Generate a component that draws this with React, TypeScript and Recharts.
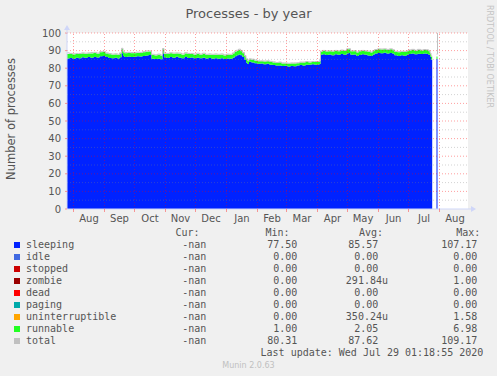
import React from 'react';
import { ComposedChart, Area, Line, XAxis, YAxis, ReferenceLine, ReferenceDot } from 'recharts';

// day 0 = 1 Aug 2019
const days = [
  -6.5, -4, -1, 2, 5, 8, 11, 14, 17, 20,
  23, 26, 29, 32, 35, 38, 41, 44, 46, 48,
  49.5, 51, 54, 57, 60, 63, 66, 69, 72, 75,
  78, 81, 84, 87, 89, 90.5, 93, 96, 99, 102,
  105, 108, 111, 114, 117, 120, 123, 126, 129, 132,
  135, 138, 141, 144, 147, 150, 153, 156, 159, 161,
  163, 165, 167, 169, 171, 172.5, 174, 175.5, 178, 181,
  184, 187, 190, 193, 196, 199, 202, 205, 208, 211,
  214, 217, 220, 223, 226, 229, 232, 235, 238, 241,
  244, 246, 247, 249, 252, 255, 258, 261, 264, 267,
  270, 273, 275, 277, 280, 283, 285, 288, 291, 294,
  297, 299, 301, 304, 307, 310, 313, 316, 319, 321,
  324, 327, 330, 333, 335, 338, 341, 344, 347, 350,
  353, 355, 356.5, 357.5, 358.7, 359, 363, 364,
];
const sleeping = [
  85.5, 85.8, 85.4, 86.0, 85.7, 86.2, 85.9, 86.3, 86.0, 86.4,
  86.1, 86.8, 86.9, 86.3, 85.8, 85.6, 85.9, 85.5, 86.2, 88.5,
  87.0, 86.3, 86.6, 86.4, 86.5, 86.8, 86.6, 86.9, 87.2, 87.5,
  85.4, 85.2, 85.4, 85.1, 88.4, 86.2, 85.8, 86.4, 85.9, 86.5,
  86.0, 85.7, 86.3, 85.8, 86.1, 85.7, 86.0, 85.6, 85.9, 85.5,
  85.8, 85.4, 85.7, 85.3, 85.6, 85.2, 85.5, 85.3, 86.0, 86.8,
  87.3, 87.8, 87.4, 86.3, 84.8, 83.2, 82.4, 83.6, 83.3, 82.8,
  82.5, 82.6, 82.3, 82.5, 82.0, 81.8, 81.5, 81.6, 81.2, 81.4,
  81.0, 81.3, 81.1, 81.5, 81.8, 81.6, 82.0, 81.9, 82.2, 82.0,
  82.1, 82.4, 87.6, 87.9, 87.5, 87.8, 87.4, 87.9, 87.6, 88.1,
  87.7, 88.3, 88.6, 87.6, 87.8, 86.9, 87.5, 87.9, 87.6, 87.2,
  86.9, 87.6, 88.4, 88.7, 88.5, 88.8, 88.4, 88.6, 88.2, 87.3,
  87.0, 87.4, 87.1, 87.6, 88.1, 88.3, 87.9, 88.2, 88.0, 88.4,
  88.1, 87.7, 86.5, 85.0, 85.0, null, 85.2, 85.2,
];
const runnable = [
  2.6, 2.2, 2.4, 2.0, 2.3, 2.1, 2.2, 2.0, 2.4, 2.2,
  2.1, 2.2, 2.3, 2.0, 2.1, 2.0, 1.9, 2.0, 2.1, 2.4,
  2.0, 2.2, 2.0, 2.1, 2.0, 1.9, 2.0, 2.1, 2.2, 2.0,
  2.1, 2.0, 2.2, 2.0, 2.4, 2.0, 2.2, 2.1, 2.3, 1.9,
  2.2, 2.0, 2.1, 2.2, 1.9, 2.0, 2.1, 2.0, 2.2, 2.0,
  1.9, 2.1, 2.0, 2.2, 2.1, 2.0, 2.1, 2.2, 2.3, 2.4,
  2.5, 2.6, 2.3, 2.2, 2.0, 1.9, 1.6, 1.4, 1.5, 1.5,
  1.4, 1.3, 1.5, 1.4, 1.6, 1.5, 1.4, 1.6, 1.5, 1.3,
  1.5, 1.4, 1.6, 1.3, 1.4, 1.6, 1.5, 1.4, 1.3, 1.5,
  1.4, 1.6, 1.8, 1.9, 2.0, 1.8, 2.1, 1.9, 2.0, 1.9,
  2.1, 2.4, 2.2, 2.0, 1.9, 2.0, 2.1, 1.9, 2.0, 2.2,
  2.0, 2.1, 1.9, 2.0, 2.1, 1.9, 2.0, 2.1, 2.0, 2.0,
  2.1, 1.9, 2.2, 2.0, 2.0, 2.1, 2.0, 2.2, 2.0, 1.9,
  2.1, 2.0, 1.8, 1.7, 1.7, null, 1.5, 1.5,
];
const total = [
  88.7, 88.4, 88.2, 88.4, 88.4, 88.7, 88.5, 88.7, 88.9, 89.0,
  88.6, 89.4, 89.6, 88.7, 88.3, 88.0, 88.2, 87.9, 88.7, 91.3,
  89.4, 88.9, 89.0, 88.9, 88.9, 89.1, 89.0, 89.4, 89.8, 89.8,
  87.9, 87.6, 88.0, 87.5, 91.2, 88.6, 88.4, 88.8, 88.6, 88.7,
  88.6, 88.1, 88.8, 88.4, 88.4, 88.1, 88.5, 88.0, 88.5, 87.9,
  88.1, 87.9, 88.1, 87.9, 88.1, 87.6, 88.0, 87.9, 88.7, 89.6,
  90.2, 90.8, 90.1, 88.9, 87.2, 85.4, 84.3, 85.3, 85.1, 84.6,
  84.2, 84.2, 84.1, 84.2, 83.9, 83.6, 83.2, 83.5, 83.0, 83.0,
  82.8, 83.0, 83.0, 83.1, 83.5, 83.5, 83.8, 83.6, 83.8, 83.8,
  83.8, 84.3, 89.7, 90.1, 89.8, 89.9, 89.8, 90.1, 89.9, 90.3,
  90.1, 91.0, 91.1, 89.9, 90.0, 89.2, 89.9, 90.1, 89.9, 89.7,
  89.2, 90.0, 90.6, 91.0, 90.9, 91.0, 90.7, 91.0, 90.5, 89.6,
  89.4, 89.6, 89.6, 89.9, 90.4, 90.7, 90.2, 90.7, 90.3, 90.6,
  90.5, 90.0, 88.6, 87.0, 87.0, null, 88.0, 109.2,
];

const monthStarts = [0, 31, 61, 92, 122, 153, 184, 213, 244, 274, 305, 335, 366];
const monthNames = ['Aug', 'Sep', 'Oct', 'Nov', 'Dec', 'Jan', 'Feb', 'Mar', 'Apr', 'May', 'Jun', 'Jul', 'Aug'];
const monthLengths = [31, 30, 31, 30, 31, 31, 29, 31, 30, 31, 30, 31, 31];
const xDomain = [-6.5, 394.5];
const yTicks = [0, 10, 20, 30, 40, 50, 60, 70, 80, 90, 100];
const yMinor = [5, 15, 25, 35, 45, 55, 65, 75, 85, 95];

const seriesNames = ['sleeping', 'idle', 'stopped', 'zombie', 'dead', 'paging', 'uninterruptible', 'runnable', 'total'];
const seriesColors = ['#0022ff', '#4169e1', '#cc0000', '#990000', '#ff0000', '#00aaaa', '#ffa500', '#22ff22', '#c0c0c0'];
const curValues = ['-nan', '-nan', '-nan', '-nan', '-nan', '-nan', '-nan', '-nan', '-nan'];
const minValues = ['77.50', '0.00', '0.00', '0.00', '0.00', '0.00', '0.00', '1.00', '80.31'];
const avgValues = ['85.57', '0.00', '0.00', '291.84u', '0.00', '0.00', '350.24u', '2.05', '87.62'];
const maxValues = ['107.17', '0.00', '0.00', '1.00', '0.00', '0.00', '1.58', '6.98', '109.17'];

const rows = days.map((d, i) => ({ day: d, sleeping: sleeping[i], runnable: runnable[i], total: total[i] }));
const monthMids = monthStarts.map((s, i) => s + monthLengths[i] / 2);
const xTicks = [...monthStarts, ...monthMids].sort((a, b) => a - b);

const W = 497;
const H = 376;
const FONT = "'DejaVu Sans', sans-serif";
const MONO = "'DejaVu Sans Mono', monospace";
const TXT = '#555555';
const AXIS = '#CFD6F8';
const MGRID = 'rgba(255,0,0,0.38)';
const GRID = 'rgba(128,128,128,0.35)';

const XTick = (props: any) => {
  const { x, y, payload } = props;
  const v = payload.value;
  if (monthStarts.includes(v)) {
    return <line x1={x} x2={x} y1={y} y2={y + 3} stroke={MGRID} />;
  }
  const mi = monthMids.indexOf(v);
  return (
    <text x={x} y={y + 12.5} textAnchor="middle" fontSize={10} fontFamily={FONT} fill={TXT}>
      {monthNames[mi]}
    </text>
  );
};

const UpArrow = (props: any) => {
  const { cx, cy } = props;
  return (
    <g>
      <line x1={cx} x2={cx} y1={cy} y2={cy - 3} stroke={AXIS} />
      <path d={`M${cx - 3},${cy - 3} L${cx + 3},${cy - 3} L${cx},${cy - 8} Z`} fill={AXIS} />
    </g>
  );
};
const RightArrow = (props: any) => {
  const { cx, cy } = props;
  return (
    <g>
      <line x1={cx} x2={cx + 3} y1={cy} y2={cy} stroke={AXIS} />
      <path d={`M${cx + 3},${cy - 3} L${cx + 3},${cy + 3} L${cx + 8},${cy} Z`} fill={AXIS} />
    </g>
  );
};

export default function App() {
  return (
    <div style={{ position: 'absolute', left: 0, top: 0, width: W, height: H, background: '#f0f0f0', overflow: 'hidden' }}>
      <div style={{ position: 'absolute', left: 0, top: 0 }}>
        <ComposedChart width={W} height={H} data={rows} margin={{ top: 33, right: 29, bottom: 137, left: 7 }}>
          <rect x={67} y={33} width={401} height={176} fill="#ffffff" />
          <XAxis
            dataKey="day"
            type="number"
            domain={xDomain}
            allowDataOverflow
            ticks={xTicks}
            interval={0}
            tick={<XTick />}
            tickLine={false}
            tickSize={0}
            tickMargin={0}
            height={30}
            axisLine={{ stroke: AXIS }}
          />
          <YAxis
            type="number"
            domain={[0, 100]}
            allowDataOverflow
            ticks={yTicks}
            interval={0}
            width={60}
            tickSize={2}
            tickMargin={4}
            tickLine={{ stroke: MGRID }}
            axisLine={{ stroke: AXIS }}
            tick={{ fontSize: 10, fontFamily: FONT, fill: TXT }}
          />
          <Area type="stepAfter" dataKey="sleeping" stackId="s" fill="#0022ff" fillOpacity={1} stroke="none" isAnimationActive={false} />
          <Area type="stepAfter" dataKey="runnable" stackId="s" fill="#22ff22" fillOpacity={1} stroke="none" isAnimationActive={false} />
          <Line type="stepAfter" dataKey="total" stroke="#c0c0c0" strokeWidth={1} dot={false} isAnimationActive={false} />
          {yMinor.map((v) => (
            <ReferenceLine key={'n' + v} y={v} stroke={GRID} strokeDasharray="1 2" />
          ))}
          {yTicks.filter((v) => v > 0).map((v) => (
            <ReferenceLine key={'m' + v} y={v} stroke={MGRID} strokeDasharray="1 2" />
          ))}
          {monthStarts.map((v) => (
            <ReferenceLine key={'x' + v} x={v} stroke={MGRID} strokeDasharray="1 2" />
          ))}
          <ReferenceDot x={xDomain[0]} y={100} shape={<UpArrow />} ifOverflow="visible" />
          <ReferenceDot x={xDomain[1]} y={0} shape={<RightArrow />} ifOverflow="visible" />
        </ComposedChart>
      </div>
      <svg width={W} height={H} style={{ position: 'absolute', left: 0, top: 0, pointerEvents: 'none' }}>
        <text x={248.5} y={18} textAnchor="middle" fontSize={13} fontFamily={FONT} fill={TXT}>
          Processes - by year
        </text>
        <text transform="translate(15,119) rotate(-90)" textAnchor="middle" fontSize={11.5} fontFamily={FONT} fill={TXT}>
          Number of processes
        </text>
        <text transform="translate(486.7,5) rotate(90)" fontSize={8} fontFamily={FONT} fill="#c4c4c4">
          RRDTOOL / TOBI OETIKER
        </text>
        <g fontFamily={MONO} fontSize={10} fill={TXT}>
          <text x={175.4} y={236}>Cur:</text>
          <text x={265.5} y={236}>Min:</text>
          <text x={359} y={236}>Avg:</text>
          <text x={456.2} y={236}>Max:</text>
          {seriesNames.map((n, i) => {
            const by = 247.5 + i * 12;
            const hasUnit = avgValues[i].endsWith('u');
            return (
              <g key={n}>
                <rect x={14} y={by - 5.5} width={6} height={6} fill={seriesColors[i]} />
                <text x={26} y={by}>{n}</text>
                <text x={206.3} y={by} textAnchor="end">{curValues[i]}</text>
                <text x={297.3} y={by} textAnchor="end">{minValues[i]}</text>
                <text x={hasUnit ? 388 : 378.3} y={by} textAnchor="end">{avgValues[i]}</text>
                <text x={477.3} y={by} textAnchor="end">{maxValues[i]}</text>
              </g>
            );
          })}
          <text x={483.3} y={355.7} textAnchor="end">Last update: Wed Jul 29 01:18:55 2020</text>
        </g>
        <text x={248.5} y={368} textAnchor="middle" fontSize={8} fontFamily={FONT} fill="#c0c0c0">
          Munin 2.0.63
        </text>
      </svg>
    </div>
  );
}
